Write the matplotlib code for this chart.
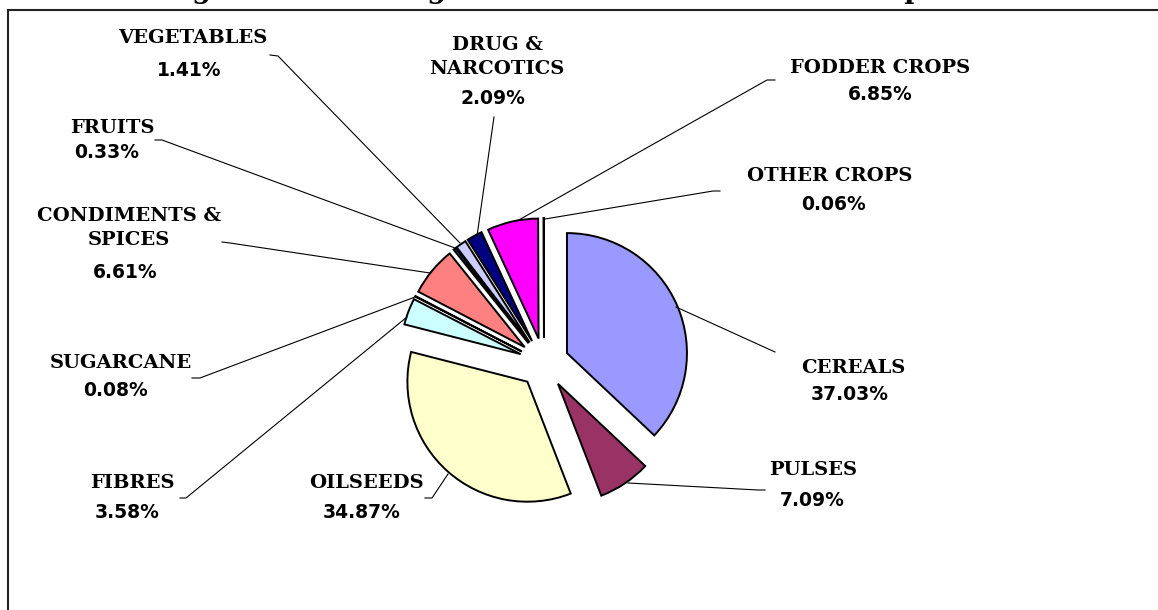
import matplotlib
matplotlib.use("Agg")
import matplotlib.pyplot as plt
from matplotlib.patches import Rectangle

# ---- data ----
categories = ["CEREALS", "PULSES", "OILSEEDS", "FIBRES", "SUGARCANE",
              "CONDIMENTS &\nSPICES", "FRUITS", "VEGETABLES",
              "DRUG &\nNARCOTICS", "FODDER CROPS", "OTHER CROPS"]
values = [37.03, 7.09, 34.87, 3.58, 0.08, 6.61, 0.33, 1.41, 2.09, 6.85, 0.06]
colors = ["#9999FF", "#993366", "#FFFFCC", "#CCFFFF", "#660066", "#FF8080",
          "#0066CC", "#CCCCFF", "#000080", "#FF00FF", "#FFFF00"]
title = "Percentage Share of Irrigated Area under Different Crops"

# ---- layout (pixel coords, y measured from top) ----
W, H = 1158, 610
name_pos = [(853, 368), (813, 470), (366, 483), (132, 483), (121, 363),
            (129, 228), (112, 128), (193, 38), (497, 57), (880, 68), (830, 176)]
pct_pos = [(850, 395), (812, 500), (362, 513), (127, 513), (116, 391),
           (125, 272), (107, 153), (189, 70), (493, 99), (880, 95), (833, 204)]
leaders = [
    [(676, 307), (775, 352)],
    [(628, 483), (758, 490), (765, 490)],
    [(448, 474), (432, 498), (425, 498)],
    [(407, 317), (186, 498), (180, 498)],
    [(415, 297), (200, 378), (192, 378)],
    [(430, 273), (230, 243), (222, 242)],
    [(455, 248), (162, 140), (155, 140)],
    [(460, 243), (278, 56), (270, 55)],
    [(477, 236), (494, 117)],
    [(517, 221), (767, 80), (775, 80)],
    [(545, 219), (713, 191), (720, 191)],
]

fig = plt.figure(figsize=(W / 100, H / 100), dpi=100)
ax = fig.add_axes([0, 0, 1, 1])

ax.pie(values, colors=colors, startangle=90, counterclock=False,
       radius=120, center=(544, H - 363), explode=[25] * len(values),
       wedgeprops=dict(edgecolor="black", linewidth=1.4))

ax.set_xlim(0, W)
ax.set_ylim(0, H)
ax.set_aspect("equal")
ax.axis("off")

# chart border (only left & top visible)
ax.add_patch(Rectangle((8, -20), W + 20, H - 10 + 20, fill=False,
                       edgecolor="#222222", linewidth=1.5, zorder=0,
                       clip_on=False))

# title, mostly cut off at top of the image (as in the reference)
ax.text(498, H + 2, title, ha="center", va="baseline", fontsize=19.6,
        fontweight="bold", family="DejaVu Serif", clip_on=False)

for pts in leaders:
    xs = [p[0] for p in pts]
    ys = [H - p[1] for p in pts]
    ax.plot(xs, ys, color="black", linewidth=0.8, zorder=1)

for name, (nx, ny), (px, py), v in zip(categories, name_pos, pct_pos, values):
    ax.text(nx, H - ny, name, ha="center", va="center", fontsize=14,
            fontweight="bold", family="DejaVu Serif", linespacing=1.45)
    ax.text(px, H - py, f"{v:.2f}%", ha="center", va="center", fontsize=13.5,
            fontweight="bold", family="DejaVu Sans")

fig.savefig("out.png", dpi=100)
